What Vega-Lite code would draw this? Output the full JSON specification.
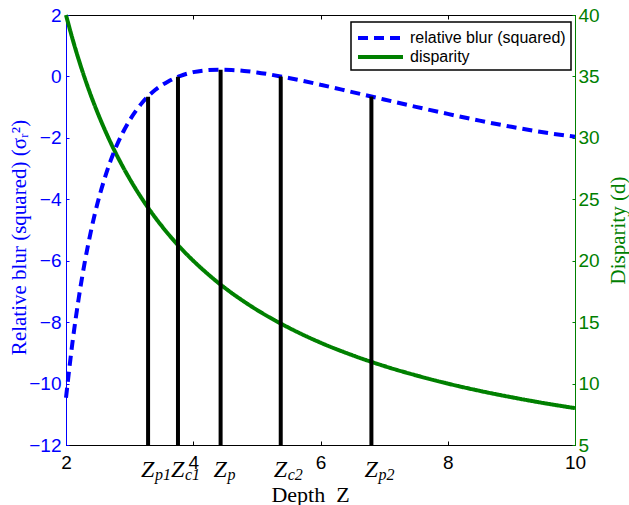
{
  "$schema": "https://vega.github.io/schema/vega-lite/v6.json",
  "width": 509,
  "height": 430,
  "autosize": {"type": "none"},
  "padding": {"left": 66, "top": 15, "right": 54, "bottom": 60},
  "background": "white",
  "config": {
    "view": {"stroke": "black", "strokeWidth": 1},
    "axis": {"grid": false, "labelFont": "Liberation Sans", "labelFontSize": 19, "titleFont": "Liberation Serif", "titleFontSize": 21, "titleFontWeight": "normal", "domainWidth": 1},
    "legend": {"orient": "none", "legendX": 285, "legendY": 7, "direction": "vertical", "fillColor": "white", "strokeColor": "black", "strokeWidth": 1.5, "padding": 5, "symbolType": "M-1,0H4", "symbolSize": 324, "symbolStrokeWidth": 4, "labelFont": "Liberation Sans", "labelFontSize": 16, "labelColor": "black", "labelOffset": 32, "rowPadding": 0}
  },
  "datasets": {
    "curves": [
      {"Z": 2.0, "series": "relative blur (squared)", "value": -10.46},
      {"Z": 2.1, "series": "relative blur (squared)", "value": -8.69},
      {"Z": 2.2, "series": "relative blur (squared)", "value": -7.22},
      {"Z": 2.3, "series": "relative blur (squared)", "value": -5.99},
      {"Z": 2.4, "series": "relative blur (squared)", "value": -4.96},
      {"Z": 2.5, "series": "relative blur (squared)", "value": -4.09},
      {"Z": 2.6, "series": "relative blur (squared)", "value": -3.37},
      {"Z": 2.7, "series": "relative blur (squared)", "value": -2.75},
      {"Z": 2.8, "series": "relative blur (squared)", "value": -2.23},
      {"Z": 2.9, "series": "relative blur (squared)", "value": -1.80},
      {"Z": 3.0, "series": "relative blur (squared)", "value": -1.43},
      {"Z": 3.2, "series": "relative blur (squared)", "value": -0.85},
      {"Z": 3.4, "series": "relative blur (squared)", "value": -0.44},
      {"Z": 3.6, "series": "relative blur (squared)", "value": -0.17},
      {"Z": 3.8, "series": "relative blur (squared)", "value": 0.02},
      {"Z": 4.0, "series": "relative blur (squared)", "value": 0.14},
      {"Z": 4.2, "series": "relative blur (squared)", "value": 0.20},
      {"Z": 4.4, "series": "relative blur (squared)", "value": 0.22},
      {"Z": 4.6, "series": "relative blur (squared)", "value": 0.21},
      {"Z": 4.8, "series": "relative blur (squared)", "value": 0.18},
      {"Z": 5.0, "series": "relative blur (squared)", "value": 0.13},
      {"Z": 5.5, "series": "relative blur (squared)", "value": -0.05},
      {"Z": 6.0, "series": "relative blur (squared)", "value": -0.27},
      {"Z": 6.5, "series": "relative blur (squared)", "value": -0.51},
      {"Z": 7.0, "series": "relative blur (squared)", "value": -0.75},
      {"Z": 7.5, "series": "relative blur (squared)", "value": -0.99},
      {"Z": 8.0, "series": "relative blur (squared)", "value": -1.22},
      {"Z": 8.5, "series": "relative blur (squared)", "value": -1.44},
      {"Z": 9.0, "series": "relative blur (squared)", "value": -1.64},
      {"Z": 9.5, "series": "relative blur (squared)", "value": -1.82},
      {"Z": 10.0, "series": "relative blur (squared)", "value": -1.96},
      {"Z": 2.0, "series": "disparity", "value": 40.0},
      {"Z": 2.1, "series": "disparity", "value": 38.10},
      {"Z": 2.2, "series": "disparity", "value": 36.36},
      {"Z": 2.3, "series": "disparity", "value": 34.78},
      {"Z": 2.4, "series": "disparity", "value": 33.33},
      {"Z": 2.5, "series": "disparity", "value": 32.0},
      {"Z": 2.6, "series": "disparity", "value": 30.77},
      {"Z": 2.7, "series": "disparity", "value": 29.63},
      {"Z": 2.8, "series": "disparity", "value": 28.57},
      {"Z": 2.9, "series": "disparity", "value": 27.59},
      {"Z": 3.0, "series": "disparity", "value": 26.67},
      {"Z": 3.2, "series": "disparity", "value": 25.0},
      {"Z": 3.4, "series": "disparity", "value": 23.53},
      {"Z": 3.6, "series": "disparity", "value": 22.22},
      {"Z": 3.8, "series": "disparity", "value": 21.05},
      {"Z": 4.0, "series": "disparity", "value": 20.0},
      {"Z": 4.2, "series": "disparity", "value": 19.05},
      {"Z": 4.4, "series": "disparity", "value": 18.18},
      {"Z": 4.6, "series": "disparity", "value": 17.39},
      {"Z": 4.8, "series": "disparity", "value": 16.67},
      {"Z": 5.0, "series": "disparity", "value": 16.0},
      {"Z": 5.5, "series": "disparity", "value": 14.55},
      {"Z": 6.0, "series": "disparity", "value": 13.33},
      {"Z": 6.5, "series": "disparity", "value": 12.31},
      {"Z": 7.0, "series": "disparity", "value": 11.43},
      {"Z": 7.5, "series": "disparity", "value": 10.67},
      {"Z": 8.0, "series": "disparity", "value": 10.0},
      {"Z": 8.5, "series": "disparity", "value": 9.41},
      {"Z": 9.0, "series": "disparity", "value": 8.89},
      {"Z": 9.5, "series": "disparity", "value": 8.42},
      {"Z": 10.0, "series": "disparity", "value": 8.0}
    ],
    "markers": [
      {"Z": 3.29, "top": -0.66, "sym": "Z", "sub": "p1"},
      {"Z": 3.76, "top": -0.01, "sym": "Z", "sub": "c1"},
      {"Z": 4.43, "top": 0.22, "sym": "Z", "sub": "p"},
      {"Z": 5.375, "top": 0.0, "sym": "Z", "sub": "c2"},
      {"Z": 6.8, "top": -0.65, "sym": "Z", "sub": "p2"}
    ]
  },
  "layer": [
    {
      "data": {"name": "curves"},
      "transform": [{"filter": "datum.series === 'disparity'"}],
      "mark": {"type": "line", "strokeWidth": 4, "interpolate": "monotone"},
      "encoding": {
        "x": {"field": "Z", "type": "quantitative", "scale": {"domain": [2, 10], "nice": false},
          "axis": {"orient": "top", "values": [2, 4, 6, 8, 10], "title": null, "labels": false, "domainColor": "black", "tickColor": "black", "tickSize": -4}},
        "y": {"field": "value", "type": "quantitative", "scale": {"domain": [5, 40], "nice": false},
          "axis": {"orient": "right", "values": [5, 10, 15, 20, 25, 30, 35, 40], "title": "Disparity (d)", "titleFont": "Liberation Serif", "titleFontSize": 21, "domainColor": "#008000", "tickColor": "#008000", "labelColor": "#008000", "titleColor": "#008000", "tickSize": -3, "labelPadding": 6, "titleAngle": 270, "titleBaseline": "top", "titlePadding": 8}},
        "color": {"field": "series", "type": "nominal", "scale": {"domain": ["relative blur (squared)", "disparity"], "range": ["#0000ff", "#008000"]}, "legend": {"title": null}},
        "strokeDash": {"field": "series", "type": "nominal", "scale": {"domain": ["relative blur (squared)", "disparity"], "range": [[10, 6], [1, 0]]}, "legend": {"title": null}}
      }
    },
    {
      "layer": [
        {
          "data": {"name": "curves"},
          "transform": [{"filter": "datum.series === 'relative blur (squared)'"}],
          "mark": {"type": "line", "strokeWidth": 4, "interpolate": "monotone"},
          "encoding": {
            "x": {"field": "Z", "type": "quantitative",
              "axis": {"orient": "bottom", "values": [2, 4, 6, 8, 10], "format": "d", "title": "Depth\u00a0\u00a0Z", "titleFont": "Liberation Serif", "titleFontSize": 22, "domainColor": "black", "tickColor": "black", "labelColor": "black", "titleColor": "black", "tickSize": -4, "labelPadding": 12, "labelFlush": false, "titleBaseline": "top", "titleX": 244, "titleY": 39}},
            "y": {"field": "value", "type": "quantitative", "scale": {"domain": [-12, 2], "nice": false},
              "axis": {"orient": "left", "values": [-12, -10, -8, -6, -4, -2, 0, 2], "title": "Relative blur (squared) (σᵣ²)", "titleFont": "Liberation Serif", "titleFontSize": 21, "domainColor": "#0000ff", "tickColor": "#0000ff", "labelColor": "#0000ff", "titleColor": "#0000ff", "tickSize": -3, "labelPadding": 8, "titleX": -37, "titleY": 222}},
            "color": {"field": "series", "type": "nominal", "legend": {"title": null}},
            "strokeDash": {"field": "series", "type": "nominal", "legend": {"title": null}}
          }
        },
        {
          "data": {"name": "markers"},
          "mark": {"type": "rule", "color": "black", "strokeWidth": 4},
          "encoding": {
            "x": {"field": "Z", "type": "quantitative"},
            "y": {"field": "top", "type": "quantitative"},
            "y2": {"datum": -12}
          }
        },
        {
          "data": {"name": "markers"},
          "mark": {"type": "text", "font": "Liberation Serif", "fontStyle": "italic", "fontSize": 24, "align": "left", "baseline": "alphabetic", "dx": -7, "dy": 32, "color": "black"},
          "encoding": {
            "x": {"field": "Z", "type": "quantitative"},
            "y": {"datum": -12, "type": "quantitative"},
            "text": {"field": "sym"}
          }
        },
        {
          "data": {"name": "markers"},
          "mark": {"type": "text", "font": "Liberation Serif", "fontStyle": "italic", "fontSize": 16, "align": "left", "baseline": "alphabetic", "dx": 7, "dy": 35, "color": "black"},
          "encoding": {
            "x": {"field": "Z", "type": "quantitative"},
            "y": {"datum": -12, "type": "quantitative"},
            "text": {"field": "sub"}
          }
        }
      ]
    }
  ],
  "resolve": {"scale": {"y": "independent"}, "axis": {"x": "independent"}}
}
